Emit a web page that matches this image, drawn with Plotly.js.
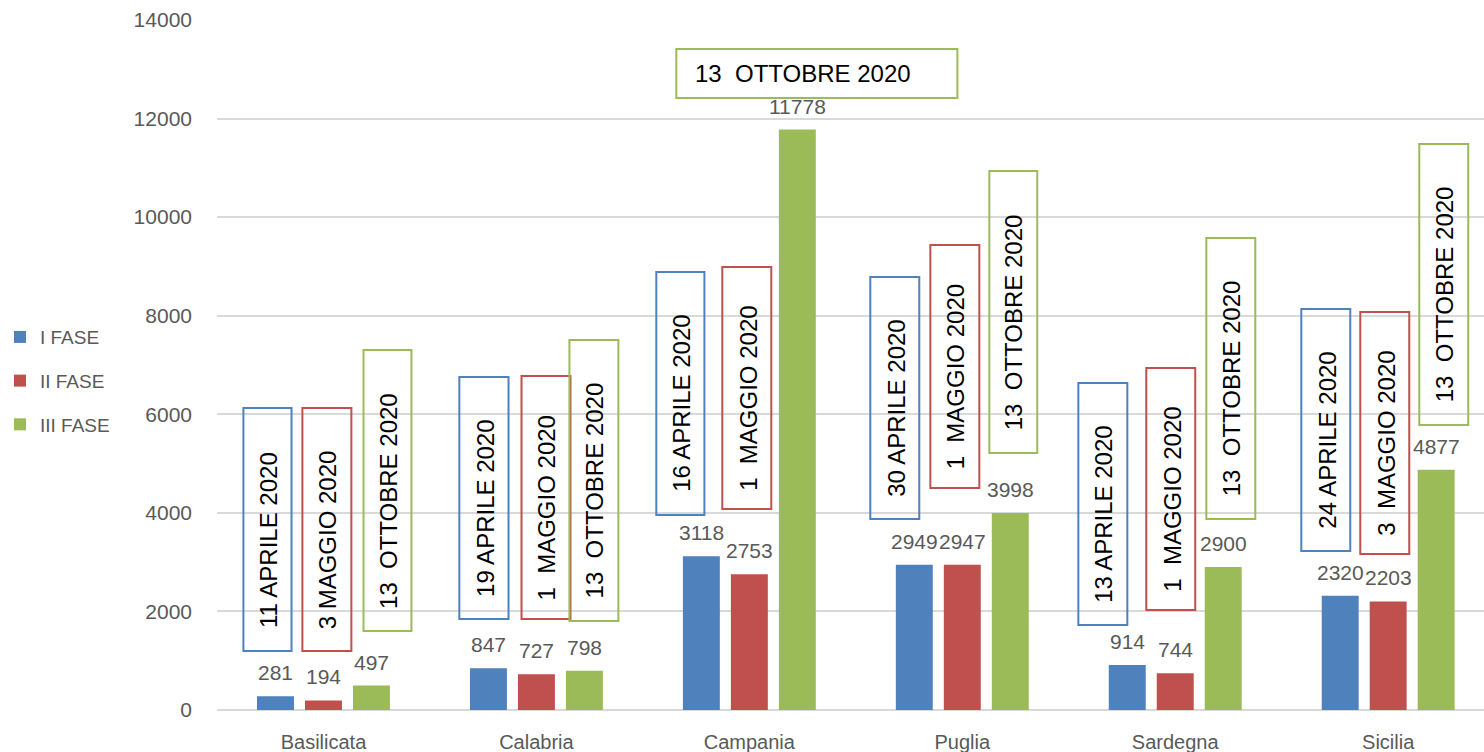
<!DOCTYPE html>
<html>
<head>
<meta charset="utf-8">
<script src="https://cdn.plot.ly/plotly-3.0.1.min.js"></script>
<style>html,body{margin:0;padding:0;background:#fff;overflow:hidden}#chart{width:1484px;height:752px}</style>
</head>
<body>
<div id="chart"></div>
<script>
// ---- data ----
const regions = ['Basilicata', 'Calabria', 'Campania', 'Puglia', 'Sardegna', 'Sicilia'];
const seriesNames = ['I FASE', 'II FASE', 'III FASE'];
const fase1 = [281, 847, 3118, 2949, 914, 2320];
const fase2 = [194, 727, 2753, 2947, 744, 2203];
const fase3 = [497, 798, 11778, 3998, 2900, 4877];
const dates1 = ['11 APRILE 2020', '19 APRILE 2020', '16 APRILE 2020', '30 APRILE 2020', '13 APRILE 2020', '24 APRILE 2020'];
const dates2 = ['3 MAGGIO 2020', '1  MAGGIO 2020', '1  MAGGIO 2020', '1  MAGGIO 2020', '1  MAGGIO 2020', '3  MAGGIO 2020'];
const dates3 = ['13  OTTOBRE 2020', '13  OTTOBRE 2020', '13  OTTOBRE 2020', '13  OTTOBRE 2020', '13  OTTOBRE 2020', '13  OTTOBRE 2020'];
const yTicks = [0, 2000, 4000, 6000, 8000, 10000, 12000, 14000];

// ---- layout config (callout boxes: [x0, x1, yTop, yBottom] in axis units) ----
const boxes1 = [[-0.376, -0.150, 6128, 1197], [0.638, 0.869, 6757, 1846], [1.563, 1.789, 8887, 3957], [2.568, 2.798, 8786, 3875], [3.545, 3.775, 6635, 1725], [4.592, 4.822, 8136, 3226]];
const boxes2 = [[-0.099, 0.131, 6128, 1197], [0.930, 1.160, 6777, 1846], [1.873, 2.103, 8988, 4078], [2.850, 3.080, 9435, 4504], [3.864, 4.094, 6939, 2029], [4.869, 5.099, 8075, 3165]];
const boxes3 = [[0.188, 0.413, 7304, 1603], [1.155, 1.385, 7507, 1806], [1.657, 2.977, 13412, 12417], [3.127, 3.352, 10936, 5215], [4.146, 4.376, 9577, 3875], [5.146, 5.376, 11484, 5783]];
const horizontal3 = [false, false, true, false, false, false];

const colors = ['#4f81bd', '#c0504d', '#9bbb59'];
const grey = '#595959';
const font = 'Liberation Sans, Arial, sans-serif';

const series = [fase1, fase2, fase3];
const traces = series.map((vals, k) => ({
  type: 'bar', x: regions, y: vals, name: seriesNames[k],
  marker: {color: colors[k]}, legendgroup: 'g' + k, hoverinfo: 'x+y'
}));

const annotations = [];
const shapes = [];
const barShift = [-48, 0, 48];
series.forEach((vals, k) => {
  vals.forEach((v, i) => {
    annotations.push({
      x: regions[i], y: v, xref: 'x', yref: 'y', text: String(v), showarrow: false,
      xshift: barShift[k], yanchor: 'bottom', yshift: 10,
      font: {family: font, size: 21, color: grey}
    });
  });
});

const allBoxes = [boxes1, boxes2, boxes3];
const allDates = [dates1, dates2, dates3];
allBoxes.forEach((bx, k) => {
  bx.forEach((b, i) => {
    shapes.push({type: 'rect', xref: 'x', yref: 'y', x0: b[0], x1: b[1], y0: b[3], y1: b[2],
      line: {color: colors[k], width: 2}, fillcolor: 'rgba(0,0,0,0)', layer: 'above'});
    const horiz = (k === 2 && horizontal3[i]);
    annotations.push({
      x: (b[0] + b[1]) / 2, y: (b[2] + b[3]) / 2, xref: 'x', yref: 'y',
      text: allDates[k][i], showarrow: false, textangle: horiz ? 0 : -90,
      xshift: horiz ? -14 : 1, yshift: horiz ? 0 : -10,
      font: {family: font, size: 24, color: '#000'}
    });
  });
});

const layout = {
  width: 1484, height: 752,
  margin: {l: 217, r: 0, t: 20, b: 42, autoexpand: false},
  paper_bgcolor: '#fff', plot_bgcolor: '#fff',
  barmode: 'group', bargap: 0.324, bargroupgap: 0.23,
  showlegend: true,
  legend: {xref: 'paper', yref: 'paper', x: -0.1713, y: 0.568, xanchor: 'left', yanchor: 'top',
    font: {family: font, size: 19, color: grey}, tracegroupgap: 16, itemwidth: 30},
  xaxis: {type: 'category', range: [-0.5, 5.45], showgrid: false, zeroline: false, showline: false,
    ticks: '', tickfont: {family: font, size: 20, color: grey}, ticklabelstandoff: 18, fixedrange: true},
  yaxis: {range: [0, 14000], tickvals: yTicks, ticktext: yTicks.map(String), showgrid: true,
    gridcolor: '#d9d9d9', gridwidth: 1.5, zeroline: true, zerolinecolor: '#d9d9d9', zerolinewidth: 1.5,
    showline: false, ticks: '', tickfont: {family: font, size: 21, color: grey}, ticklabelstandoff: 24, fixedrange: true},
  annotations: annotations,
  shapes: shapes
};

Plotly.newPlot('chart', traces, layout, {displayModeBar: false, responsive: false});
</script>
</body>
</html>
